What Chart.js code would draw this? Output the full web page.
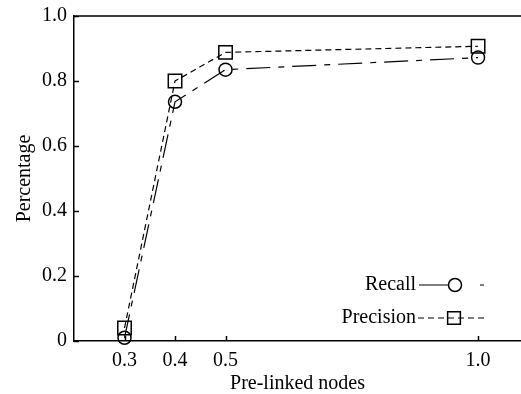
<!DOCTYPE html>
<html lang="en">
<head>
    <meta charset="UTF-8">
    <title>Recall and Precision vs Pre-linked nodes</title>
    <script src="https://cdn.jsdelivr.net/npm/chart.js@4.4.1/dist/chart.umd.min.js"></script>
    <style>
        html, body { margin: 0; padding: 0; background: #fff; }
        #wrap { width: 521px; height: 394px; }
    </style>
</head>
<body>
    <div id="wrap"><canvas id="chart" width="521" height="394"></canvas></div>

    <script>
        const xValues = [0.3, 0.4, 0.5, 1.0];
        const recall = [0.01, 0.736, 0.835, 0.872];
        const precision = [0.04, 0.80, 0.888, 0.907];
        const xTicks = [0.3, 0.4, 0.5, 1.0];
        const yTicks = [0, 0.2, 0.4, 0.6, 0.8, 1.0];

        const FONT = 'Liberation Serif';
        const recallDash = [24, 8, 6, 8];
        const precisionDash = [6, 4];

        // frame top line, inward ticks, legend
        const decor = {
            id: 'decor',
            afterDraw(chart) {
                const ctx = chart.ctx;
                const a = chart.chartArea;
                const xs = chart.scales.x, ys = chart.scales.y;
                ctx.save();
                ctx.strokeStyle = '#000';
                ctx.lineWidth = 1.5;
                ctx.beginPath();
                ctx.moveTo(a.left, a.top);
                ctx.lineTo(a.right, a.top);
                xTicks.forEach(v => {
                    const px = Math.round(xs.getPixelForValue(v)) + 0.5;
                    ctx.moveTo(px, a.bottom);
                    ctx.lineTo(px, a.bottom - 5);
                });
                yTicks.forEach(v => {
                    const py = Math.round(ys.getPixelForValue(v)) + 0.5;
                    ctx.moveTo(a.left, py);
                    ctx.lineTo(a.left + 5, py);
                });
                ctx.stroke();

                // legend
                ctx.font = '20px "' + FONT + '"';
                ctx.fillStyle = '#000';
                ctx.textAlign = 'right';
                ctx.textBaseline = 'middle';
                ctx.fillText('Recall', 416, 285);
                ctx.fillText('Precision', 416, 318);

                ctx.lineWidth = 1.2;
                ctx.beginPath();
                ctx.moveTo(419, 285); ctx.lineTo(449, 285);
                ctx.moveTo(480, 285); ctx.lineTo(484, 285);
                ctx.stroke();
                ctx.setLineDash(precisionDash);
                ctx.beginPath();
                ctx.moveTo(418, 318); ctx.lineTo(488, 318);
                ctx.stroke();
                ctx.setLineDash([]);

                ctx.fillStyle = 'rgba(0,0,0,0)';
                ctx.lineWidth = 1.5;
                Chart.helpers.drawPoint(ctx, { pointStyle: 'circle', radius: 6.5, borderWidth: 1.5 }, 455, 285);
                Chart.helpers.drawPoint(ctx, { pointStyle: 'rect', radius: 9, borderWidth: 1.5 }, 454, 318);
                ctx.restore();
            }
        };

        const ctx = document.getElementById('chart').getContext('2d');
        new Chart(ctx, {
            type: 'line',
            data: {
                datasets: [{
                    label: 'Recall',
                    data: xValues.map((x, i) => ({ x: x, y: recall[i] })),
                    borderColor: '#000',
                    borderWidth: 1.2,
                    borderDash: recallDash,
                    pointStyle: 'circle',
                    pointRadius: 6.5,
                    pointBorderWidth: 1.5,
                    pointBorderColor: '#000',
                    pointBackgroundColor: 'rgba(0,0,0,0)',
                    fill: false
                }, {
                    label: 'Precision',
                    data: xValues.map((x, i) => ({ x: x, y: precision[i] })),
                    borderColor: '#000',
                    borderWidth: 1.2,
                    borderDash: precisionDash,
                    pointStyle: 'rect',
                    pointRadius: 9.5,
                    pointBorderWidth: 1.5,
                    pointBorderColor: '#000',
                    pointBackgroundColor: 'rgba(0,0,0,0)',
                    fill: false
                }]
            },
            options: {
                responsive: false,
                animation: false,
                clip: false,
                layout: { autoPadding: false, padding: { top: 16, right: 0, bottom: 0, left: 0 } },
                plugins: { legend: { display: false }, tooltip: { enabled: false } },
                scales: {
                    x: {
                        type: 'linear',
                        min: 0.2,
                        max: 1.085,
                        afterBuildTicks: s => { s.ticks = xTicks.map(v => ({ value: v })); },
                        afterFit: s => { s.height = 53; s.paddingRight = 0; s.paddingLeft = 0; },
                        grid: { display: false, drawTicks: false },
                        border: { display: true, color: '#000', width: 1.5 },
                        ticks: {
                            color: '#000',
                            font: { family: FONT, size: 20 },
                            padding: 8,
                            maxRotation: 0,
                            callback: v => Number(v).toFixed(1)
                        },
                        title: {
                            display: true,
                            text: 'Pre-linked nodes',
                            color: '#000',
                            font: { family: FONT, size: 20, lineHeight: 1 },
                            padding: { top: 0, bottom: 0 }
                        }
                    },
                    y: {
                        type: 'linear',
                        min: 0,
                        max: 1,
                        afterBuildTicks: s => { s.ticks = yTicks.map(v => ({ value: v })); },
                        afterFit: s => { s.width = 74; s.paddingTop = 0; s.paddingBottom = 0; },
                        grid: { display: false, drawTicks: false },
                        border: { display: true, color: '#000', width: 1.5 },
                        ticks: {
                            color: '#000',
                            font: { family: FONT, size: 20 },
                            padding: 7,
                            callback: v => v === 0 ? '0' : Number(v).toFixed(1)
                        },
                        title: {
                            display: true,
                            text: 'Percentage',
                            color: '#000',
                            font: { family: FONT, size: 20, lineHeight: 1 },
                            padding: { top: 15, bottom: 0 }
                        }
                    }
                }
            },
            plugins: [decor]
        });
    </script>
</body>
</html>
